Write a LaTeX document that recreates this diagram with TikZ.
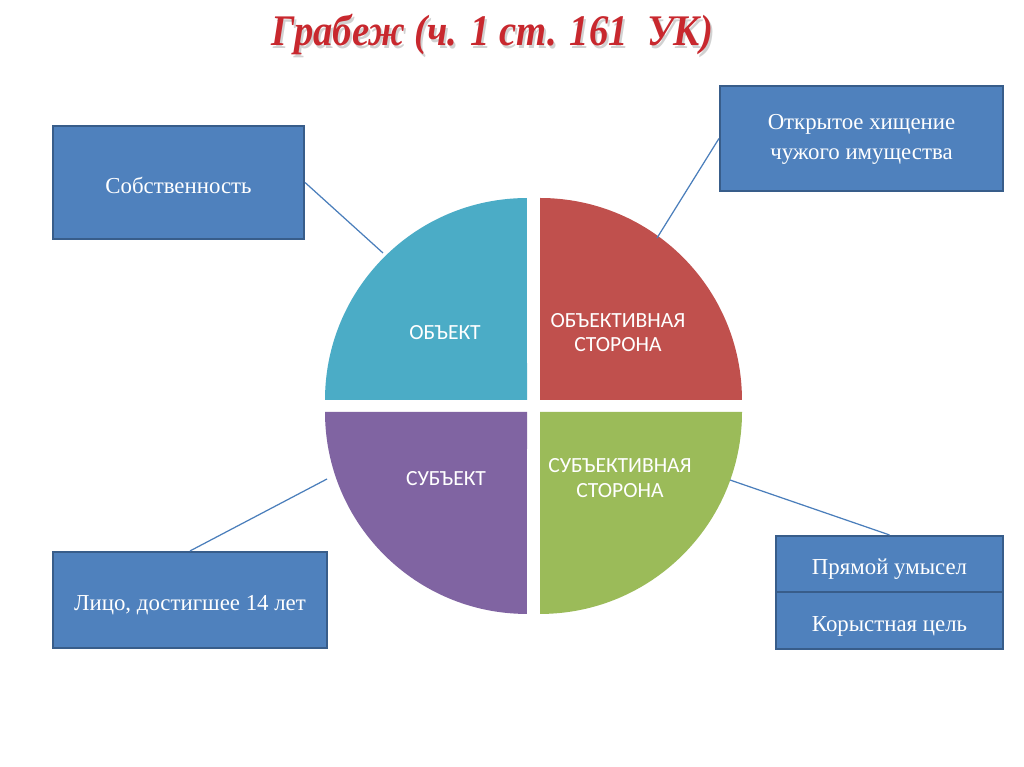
\documentclass[tikz,border=0pt]{standalone}
\usepackage{fontspec}
\usepackage{graphicx}
\setmainfont{Liberation Serif}
\newfontfamily\calib{Carlito}
\definecolor{boxfill}{HTML}{4F81BD}
\definecolor{boxline}{HTML}{385D8A}
\definecolor{linkc}{HTML}{4A7EBB}
\definecolor{qa}{HTML}{4BACC6}
\definecolor{qb}{HTML}{C0504D}
\definecolor{qc}{HTML}{8064A2}
\definecolor{qd}{HTML}{9BBB59}
\definecolor{titlered}{HTML}{C8282E}
\newcommand{\titletext}{\scalebox{1}[1.13]{Грабеж (ч. 1 ст. 161\ \ УК)}}
\tikzset{
  infobox/.style={draw=boxline, line width=1.2pt, fill=boxfill, text=white, inner sep=0pt,
    align=center, font=\fontsize{13}{17}\selectfont},
  oneline/.style={text height=12pt, text depth=0pt},
  qlabel/.style={text=white, align=center, font=\calib\fontsize{12.3}{13.8}\selectfont},
  link/.style={draw=linkc, line width=0.7pt},
  titlestyle/.style={anchor=base, inner sep=0pt, font=\bfseries\itshape\fontsize{22}{26}\selectfont}
}
\begin{document}
\begin{tikzpicture}[x=0.02cm,y=0.02cm]
\useasboundingbox (0,0) rectangle (1024,767);
\fill[white] (0,0) rectangle (1024,767);
% title with soft shadow
\node[titlestyle, text=black!18] at (494.5,718.5) {\titletext};
\node (title) [titlestyle, text=titlered] at (492.5,721) {\titletext};
% quadrants
\fill[qa] (527,367) -- (325,367) arc[start angle=180,end angle=90,radius=4.04cm] -- cycle;
\fill[qb] (540,367) -- (540,569) arc[start angle=90,end angle=0,radius=4.04cm] -- cycle;
\fill[qc] (527,355) -- (325,355) arc[start angle=180,end angle=270,radius=4.04cm] -- cycle;
\fill[qd] (540,355) -- (742,355) arc[start angle=0,end angle=-90,radius=4.04cm] -- cycle;
\node (obj) [qlabel] at (445,434) {ОБЪЕКТ};
\node (objs) [qlabel] at (618,434.5) {ОБЪЕКТИВНАЯ\\СТОРОНА};
\node (subj) [qlabel] at (446,288) {СУБЪЕКТ};
\node (subjs) [qlabel] at (620,289) {СУБЪЕКТИВНАЯ\\СТОРОНА};
% boxes
\node (sob) [infobox, oneline, minimum width=5.02cm, minimum height=2.26cm] at (178.5,584.5) {Собственность};
\node (otk) [infobox, minimum width=5.66cm, minimum height=2.10cm] at (861.5,628.5)
  {\begin{tabular}{@{}c@{}}Открытое хищение\\чужого имущества\end{tabular}};
\node (lico) [infobox, oneline, minimum width=5.48cm, minimum height=1.92cm] at (190,167) {Лицо, достигшее 14 лет};
\node (pu) [infobox, oneline, minimum width=4.54cm, minimum height=1.12cm] at (889.5,203) {Прямой умысел};
\node (kc) [infobox, oneline, minimum width=4.54cm, minimum height=1.14cm] at (889.5,146.5) {Корыстная цель};
% connector ends on the circle
\coordinate (csob) at (383,514);
\coordinate (cotk) at (657,529);
\coordinate (clico) at (327,288);
\coordinate (cpu) at (730,287);
\draw[link] (sob.east) -- (csob);
\draw[link] (otk.west) -- (cotk);
\draw[link] (lico.north) -- (clico);
\draw[link] (pu.north) -- (cpu);
\end{tikzpicture}
\end{document}
